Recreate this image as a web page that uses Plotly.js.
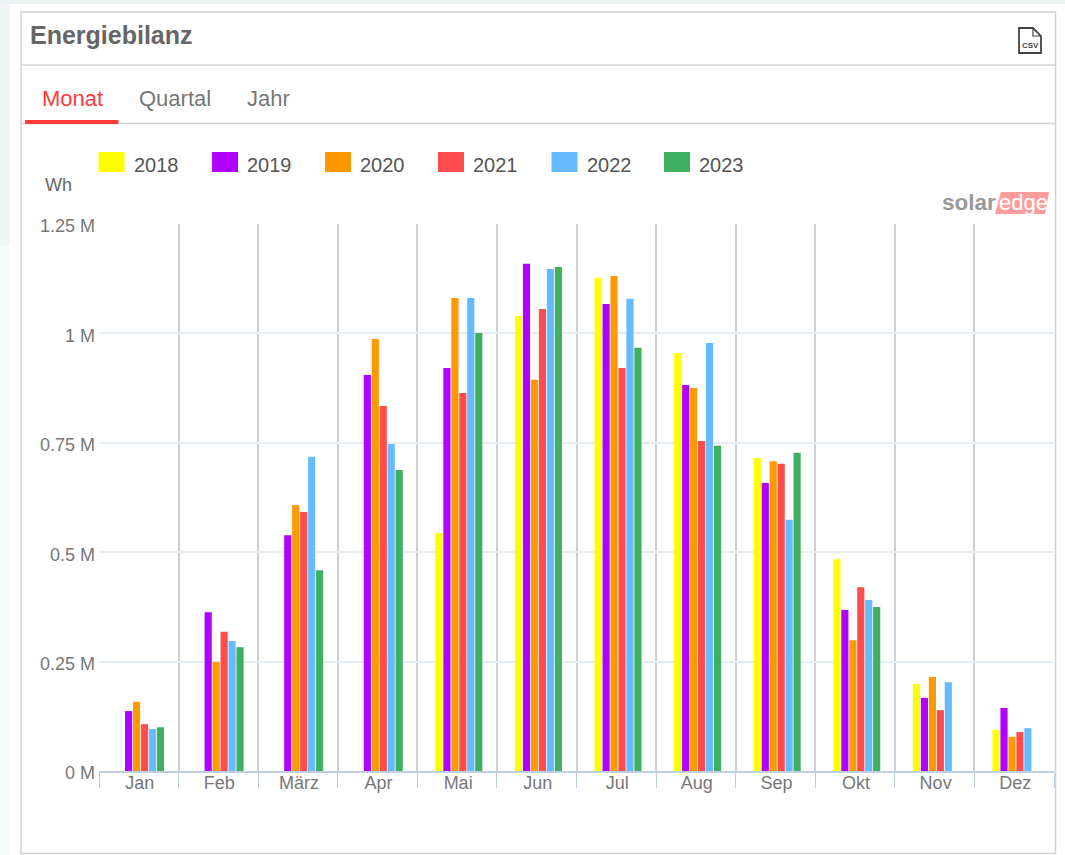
<!DOCTYPE html>
<html>
<head>
<meta charset="utf-8">
<script src="https://cdn.plot.ly/plotly-3.0.1.min.js"></script>
<style>html,body{margin:0;padding:0;background:#fff;overflow:hidden}#chart{width:1065px;height:855px}</style>
</head>
<body>
<div id="chart"></div>
<script>
const months = ["Jan","Feb","März","Apr","Mai","Jun","Jul","Aug","Sep","Okt","Nov","Dez"];
const years = ["2018","2019","2020","2021","2022","2023"];
const colors = ["#FFFF00","#B000FF","#FF9900","#FF4D4D","#66BBFF","#3FAF62"];
const y2018 = [null,null,null,null,0.544,1.040,1.127,0.955,0.715,0.484,0.199,0.094];
const y2019 = [0.137,0.363,0.539,0.905,0.921,1.159,1.067,0.882,0.658,0.368,0.167,0.144];
const y2020 = [0.158,0.249,0.608,0.987,1.081,0.894,1.131,0.875,0.708,0.299,0.215,0.078];
const y2021 = [0.107,0.318,0.592,0.834,0.864,1.056,0.921,0.754,0.702,0.420,0.139,0.089];
const y2022 = [0.096,0.297,0.718,0.747,1.081,1.147,1.079,0.978,0.574,0.391,0.203,0.098];
const y2023 = [0.100,0.283,0.459,0.688,1.001,1.152,0.967,0.743,0.727,0.375,null,null];
const seriesValues = [y2018,y2019,y2020,y2021,y2022,y2023];
const yTicks = [0,0.25,0.5,0.75,1,1.25];
const yTickText = ["0 M","0.25 M","0.5 M","0.75 M","1 M","1.25 M"];

const W=1065,H=855,ML=99,MR=11,MT=224,MB=84;
const FONT='"Liberation Sans", Arial, sans-serif';
const px=x=>(x-ML)/(W-ML-MR);
const py=y=>1-(y-MT)/(H-MT-MB);

function rect(x0,y0,x1,y1,fill,layer){return {type:'rect',xref:'paper',yref:'paper',x0:px(x0),x1:px(x1),y0:py(y0),y1:py(y1),fillcolor:fill,line:{width:0},layer:layer||'below'};}
function hline(x0,x1,y,c,w){return {type:'line',xref:'paper',yref:'paper',x0:px(x0),x1:px(x1),y0:py(y),y1:py(y),line:{color:c,width:w},layer:'below'};}
function path(pts,opts){const d=pts.map((p,i)=>(i?'L':'M')+px(p[0])+','+py(p[1])).join(' ')+(opts.open?'':' Z');
  return {type:'path',xref:'paper',yref:'paper',path:d,fillcolor:opts.fill||'rgba(0,0,0,0)',line:{color:opts.color||'rgba(0,0,0,0)',width:opts.width||0},layer:opts.layer||'above'};}
function label(x,y,text,size,color,anchor,bold){return {xref:'paper',yref:'paper',x:px(x),y:py(y),text:bold?'<b>'+text+'</b>':text,showarrow:false,xanchor:anchor||'left',yanchor:'middle',font:{family:FONT,size:size,color:color},borderpad:0,borderwidth:0};}

const shapes=[
  rect(0,0,W,4,'#e9f3f3'),
  rect(0,4,10,245,'#eef6f6'),
  rect(0,245,10,H,'#f6fbfb'),
  {type:'rect',xref:'paper',yref:'paper',x0:px(21),x1:px(1055.5),y0:py(12),y1:py(853.5),fillcolor:'#fff',line:{color:'#d2d2d2',width:1.5},layer:'below'},
  hline(21,1055,65,'#d4d4d4',1.5),
  hline(21,1055,123.5,'#d4d4d4',1.5),
  rect(25,120,118.5,124,'#FF3B3B','above'),
  // CSV icon
  path([[1019,28],[1033,28],[1041,36],[1041,53],[1019,53]],{color:'#444',width:1.8,fill:'#fff'}),
  path([[1033,28],[1033,36],[1041,36]],{color:'#444',width:1.2,open:true}),
  // logo band
  path([[1001,192],[1049,192],[1045,214],[995,214]],{fill:'#FF9C9C',layer:'below'})
];
const annotations=[
  label(30,35,'Energiebilanz',25,'#666','left',true),
  label(42,98.5,'Monat',22,'#FF3B3B'),
  label(139,98.5,'Quartal',22,'#777'),
  label(247,98.5,'Jahr',22,'#777'),
  label(45,185,'Wh',18,'#666'),
  label(1030,45.5,'<b>CSV</b>',8,'#444','center'),
  label(942,203,'solar',22.5,'#999','left',true),
  label(999,203,'edge',22,'#fff','left')
];
const legendX=[98.5,212,325,438,551.5,664];
years.forEach((yr,i)=>{
  shapes.push(rect(legendX[i],152,legendX[i]+26,172,colors[i],'above'));
  annotations.push(label(legendX[i]+35,164.5,yr,20,'#555'));
});

const traces=years.map((yr,i)=>({
  type:'bar',name:yr,x:months,y:seriesValues[i],
  width:0.09,offset:(i-3)*0.1+0.027,
  marker:{color:colors[i],line:{width:0}},
  hoverinfo:'x+y+name'
}));

const layout={
  width:W,height:H,autosize:false,
  margin:{l:ML,r:MR,t:MT,b:MB,pad:0},
  paper_bgcolor:'#fff',plot_bgcolor:'rgba(0,0,0,0)',
  font:{family:FONT,color:'#666'},
  barmode:'group',
  showlegend:false,
  xaxis:{
    type:'category',categoryorder:'array',categoryarray:months,
    range:[-0.5,11.5],tickson:'boundaries',
    ticks:'outside',ticklen:15,tickwidth:1.3,tickcolor:'#C0D0E0',
    showgrid:true,gridcolor:'#CDD0D3',gridwidth:1.5,
    showline:true,linecolor:'#C0D0E0',linewidth:1.5,
    tickfont:{family:FONT,size:18,color:'#777'},
    ticklabelstandoff:-5,ticklabelshift:1,
    fixedrange:true,zeroline:false
  },
  yaxis:{
    range:[0,1.25],tickmode:'array',tickvals:yTicks,ticktext:yTickText,
    ticks:'',showgrid:true,gridcolor:'#E6EEF5',gridwidth:1.5,
    tickfont:{family:FONT,size:18,color:'#777'},
    ticklabelstandoff:3,ticklabelshift:2,
    showline:false,zeroline:false,fixedrange:true
  },
  shapes:shapes,annotations:annotations
};
Plotly.newPlot('chart',traces,layout,{displayModeBar:false,responsive:false});
</script>
</body>
</html>
